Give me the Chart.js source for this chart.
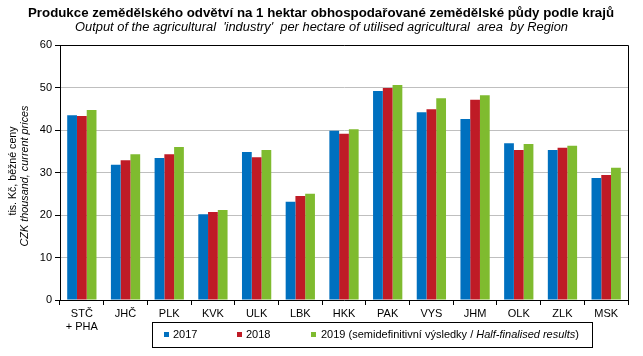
<!DOCTYPE html>
<html><head><meta charset="utf-8">
<script src="https://cdn.jsdelivr.net/npm/chart.js@4/dist/chart.umd.min.js"></script>
<style>html,body{margin:0;padding:0;background:#fff}#wrap{width:643px;height:356px;position:relative}</style>
</head><body><div id="wrap"><canvas id="c" width="643" height="356"></canvas></div>
<script>
const categories = [['STČ','+ PHA'],'JHČ','PLK','KVK','ULK','LBK','HKK','PAK','VYS','JHM','OLK','ZLK','MSK'];
const values2017 = [43.5,31.8,33.4,20.2,34.8,23.1,39.8,49.2,44.2,42.6,36.9,35.3,28.7];
const values2018 = [43.3,32.9,34.3,20.7,33.6,24.5,39.1,49.9,44.9,47.1,35.3,35.8,29.4];
const values2019 = [44.7,34.3,36.0,21.2,35.3,25.0,40.2,50.6,47.5,48.2,36.7,36.3,31.1];
const seriesNames = ['2017','2018','2019'];
const yMin = 0, yMax = 60, yStep = 10;

const FONT = '"Liberation Sans", Arial, sans-serif';
const COLORS = ['#0070BF','#BF1B26','#7FBB2F'];

function fitText(ctx, text, x, y, font, targetW, rot){
  ctx.save();
  ctx.font = font;
  const w = ctx.measureText(text).width;
  ctx.translate(x, y);
  if (rot) ctx.rotate(rot);
  ctx.scale(targetW / w, 1);
  ctx.textAlign = 'center'; ctx.textBaseline = 'middle';
  ctx.fillText(text, 0, 0);
  ctx.restore();
}

const decor = {
  id:'decor',
  afterDraw(chart){
    const ctx = chart.ctx, a = chart.chartArea;
    ctx.save();
    ctx.strokeStyle = '#000'; ctx.lineWidth = 1;
    ctx.beginPath();
    ctx.moveTo(a.left, Math.round(a.top)+0.5); ctx.lineTo(Math.round(a.right)+0.5, Math.round(a.top)+0.5);
    ctx.lineTo(Math.round(a.right)+0.5, a.bottom);
    ctx.stroke();
    ctx.fillStyle = '#000';
    fitText(ctx, 'Produkce zemědělského odvětví na 1 hektar obhospodařované zemědělské půdy podle krajů', 321, 13.5, 'bold 13px ' + FONT, 586);
    fitText(ctx, "Output of the agricultural  'industry'  per hectare of utilised agricultural  area  by Region", 321.5, 28, 'italic 12.5px ' + FONT, 493);
    fitText(ctx, 'tis. Kč, běžné ceny', 13, 171, '11px ' + FONT, 89, -Math.PI/2);
    fitText(ctx, 'CZK thousand, current prices', 24.5, 176, 'italic 11px ' + FONT, 141, -Math.PI/2);
    // legend
    ctx.strokeRect(152.5, 322.5, 440, 25);
    const ly = 335;
    ctx.textAlign = 'left'; ctx.textBaseline = 'middle';
    ctx.font = '11px ' + FONT;
    const items = [[164, 173, seriesNames[0]], [237, 246, seriesNames[1]]];
    items.forEach((it, i) => {
      ctx.fillStyle = COLORS[i]; ctx.fillRect(it[0], ly-3, 5, 5);
      ctx.fillStyle = '#000'; ctx.fillText(it[2], it[1], ly);
    });
    ctx.fillStyle = COLORS[2]; ctx.fillRect(311, ly-3, 5, 5);
    ctx.fillStyle = '#000';
    let x = 321;
    const p1 = seriesNames[2] + ' (semidefinitivní výsledky / ';
    ctx.fillText(p1, x, ly); x += ctx.measureText(p1).width;
    ctx.font = 'italic 11px ' + FONT;
    const p2 = 'Half-finalised results';
    ctx.fillText(p2, x, ly); x += ctx.measureText(p2).width;
    ctx.font = '11px ' + FONT;
    ctx.fillText(')', x, ly);
    ctx.restore();
  }
};

new Chart(document.getElementById('c'), {
  type:'bar',
  data:{
    labels: categories,
    datasets: [values2017, values2018, values2019].map((d,i)=>({
      label: seriesNames[i], data: d, backgroundColor: COLORS[i], borderWidth:0,
      categoryPercentage: 0.67, barPercentage: 1.0
    }))
  },
  options:{
    responsive:false, animation:false, devicePixelRatio:1,
    layout:{padding:{top:45,right:15,left:0,bottom:0}},
    plugins:{legend:{display:false}, title:{display:false}, tooltip:{enabled:false}},
    scales:{
      x:{
        grid:{display:true, offset:true, drawOnChartArea:false, drawTicks:true, tickLength:5, tickColor:'#000', color:'#000'},
        border:{display:true, color:'#000', width:1},
        ticks:{font:{family:FONT, size:11}, color:'#000', padding:2, maxRotation:0, autoSkip:false},
        afterFit(s){ s.height = 56; }
      },
      y:{
        min:yMin, max:yMax,
        grid:{color:'#BFBFBF', lineWidth:1, tickLength:5, tickColor:'#000'},
        border:{display:true, color:'#000', width:1},
        ticks:{stepSize:yStep, font:{family:FONT, size:11}, color:'#000', padding:3},
        afterFit(s){ s.width = 60; }
      }
    }
  },
  plugins:[decor]
});
</script></body></html>
